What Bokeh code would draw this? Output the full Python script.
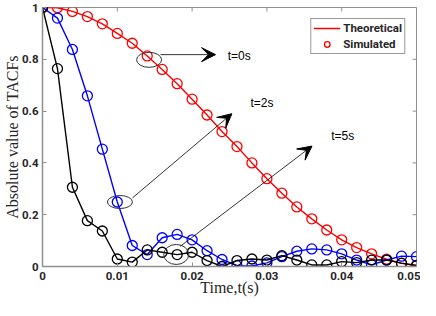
import math
from bokeh.plotting import figure
from bokeh.models import Range1d, FixedTicker, Arrow, VeeHead, Label, Legend, LegendItem
from bokeh.embed import file_html
from bokeh.resources import INLINE

# ---- data ----
time_s = [0.000, 0.002, 0.004, 0.006, 0.008, 0.010, 0.012, 0.014, 0.016, 0.018,
          0.020, 0.022, 0.024, 0.026, 0.028, 0.030, 0.032, 0.034, 0.036, 0.038,
          0.040, 0.042, 0.044, 0.046, 0.048, 0.050]
acf_t0 = [1.000, 0.999, 0.985, 0.965, 0.937, 0.900, 0.862, 0.813, 0.761, 0.706,
          0.646, 0.585, 0.521, 0.463, 0.400, 0.339, 0.283, 0.230, 0.184, 0.141,
          0.103, 0.073, 0.049, 0.028, 0.012, 0.004]
acf_t2 = [1.000, 0.959, 0.838, 0.659, 0.453, 0.249, 0.081, 0.046, 0.111, 0.124,
          0.103, 0.061, 0.027, 0.003, 0.002, 0.014, 0.038, 0.059, 0.068, 0.064,
          0.049, 0.025, 0.006, 0.025, 0.040, 0.038]
acf_t5 = [1.000, 0.764, 0.306, 0.177, 0.137, 0.029, 0.017, 0.064, 0.055, 0.046,
          0.055, 0.023, 0.000, 0.023, 0.029, 0.025, 0.042, 0.025, 0.006, 0.006,
          0.019, 0.015, 0.025, 0.025, 0.013, 0.004]
x_ticks = [0, 0.01, 0.02, 0.03, 0.04, 0.05]
y_ticks = [0, 0.2, 0.4, 0.6, 0.8, 1]
x_tick_labels = {0: "0", 0.01: "0.01", 0.02: "0.02", 0.03: "0.03", 0.04: "0.04", 0.05: "0.05"}
y_tick_labels = {0: "0", 0.2: "0.2", 0.4: "0.4", 0.6: "0.6", 0.8: "0.8", 1: "1"}
x_min, x_max = 0, 0.05
y_min, y_max = 0, 1
x_title = "Time,t(s)"
y_title = "Absolute value of TACFs"

# annotations: ellipse centres, arrow start/end, text anchors
ann_labels = ["t=0s", "t=2s", "t=5s"]
ell_x = [0.01425, 0.01035, 0.01788]
ell_y = [0.798, 0.249, 0.0465]
arr_x0 = [0.01577, 0.01203, 0.01841]
arr_y0 = [0.818, 0.265, 0.0776]
arr_x1 = [0.02313, 0.02532, 0.03603]
arr_y1 = [0.818, 0.590, 0.465]
txt_x = [0.02475, 0.0278, 0.0386]
txt_y = [0.811, 0.630, 0.505]

AX = "#8f8f8f"
TXT = "#262626"
BOLD_FONT = "Roboto"

p = figure(width=420, height=300, output_backend="svg", toolbar_location=None,
           x_range=Range1d(x_min, x_max), y_range=Range1d(y_min, y_max),
           min_border_left=36, min_border_right=4, min_border_top=7, min_border_bottom=34)
p.grid.visible = False
p.outline_line_color = AX
p.outline_line_width = 1

for ax, ticks, labels in ((p.xaxis[0], x_ticks, x_tick_labels), (p.yaxis[0], y_ticks, y_tick_labels)):
    ax.ticker = FixedTicker(ticks=ticks)
    ax.major_label_overrides = labels
    ax.major_tick_in = 4
    ax.major_tick_out = 0
    ax.minor_tick_line_color = None
    ax.axis_line_color = AX
    ax.axis_line_width = 1.5
    ax.major_tick_line_color = AX
    ax.major_label_text_font = BOLD_FONT
    ax.major_label_text_font_style = "bold"
    ax.major_label_text_font_size = "11.5px"
    ax.major_label_text_color = TXT
    ax.axis_label_text_font = "Liberation Serif"
    ax.axis_label_text_font_style = "normal"
    ax.axis_label_text_font_size = "16px"
    ax.axis_label_text_color = TXT

p.xaxis.axis_label = x_title
p.yaxis.axis_label = y_title
p.xaxis.major_label_standoff = 5
p.xaxis.axis_label_standoff = -4
p.yaxis.major_label_standoff = 4
p.yaxis.axis_label_standoff = -2

# inward ticks on the top and right edges of the box
p.ray(x=x_ticks, y=[y_max] * len(x_ticks), length=4, length_units="screen",
      angle=-math.pi / 2, line_color=AX, line_width=1)
p.ray(x=[x_max] * len(y_ticks), y=y_ticks, length=4, length_units="screen",
      angle=math.pi, line_color=AX, line_width=1)

# series
r_theo = p.line(time_s, acf_t0, line_color="#ff0000", line_width=1.4)
r_sim = p.scatter(time_s, acf_t0, marker="circle", size=10, fill_color=None,
                  line_color="#ff0000", line_width=1.3)
p.line(time_s, acf_t2, line_color="#0000ff", line_width=1.4)
p.scatter(time_s, acf_t2, marker="circle", size=10, fill_color=None,
          line_color="#0000ff", line_width=1.3)
p.line(time_s, acf_t5, line_color="#000000", line_width=1.4)
p.scatter(time_s, acf_t5, marker="circle", size=10, fill_color=None,
          line_color="#000000", line_width=1.3)

# ellipses
p.ellipse(x=ell_x, y=ell_y, width=[25, 25, 25], height=[15, 13, 20],
          width_units="screen", height_units="screen",
          fill_color=None, line_color="#333333", line_width=1)

# arrows and texts
for i in range(3):
    p.add_layout(Arrow(x_start=arr_x0[i], y_start=arr_y0[i], x_end=arr_x1[i], y_end=arr_y1[i],
                       line_color="#000000", line_width=0.8,
                       end=VeeHead(size=14, fill_color="#000000", line_color="#000000", line_width=1)))
    p.add_layout(Label(x=txt_x[i], y=txt_y[i], text=ann_labels[i], text_align="left",
                       text_baseline="middle", text_font="Liberation Sans",
                       text_font_size="12px", text_color="#000000"))

legend = Legend(items=[LegendItem(label="Theoretical", renderers=[r_theo]),
                       LegendItem(label="Simulated", renderers=[r_sim])],
                location="top_right", margin=11, padding=2, spacing=2,
                glyph_width=27, glyph_height=14, label_height=14, label_standoff=3,
                label_text_font=BOLD_FONT, label_text_font_style="bold",
                label_text_font_size="11.5px", label_text_color=TXT,
                border_line_color="#333333", border_line_width=1,
                background_fill_color="white", background_fill_alpha=1)
p.add_layout(legend, "center")

open("out.html", "w").write(file_html(p, INLINE))
